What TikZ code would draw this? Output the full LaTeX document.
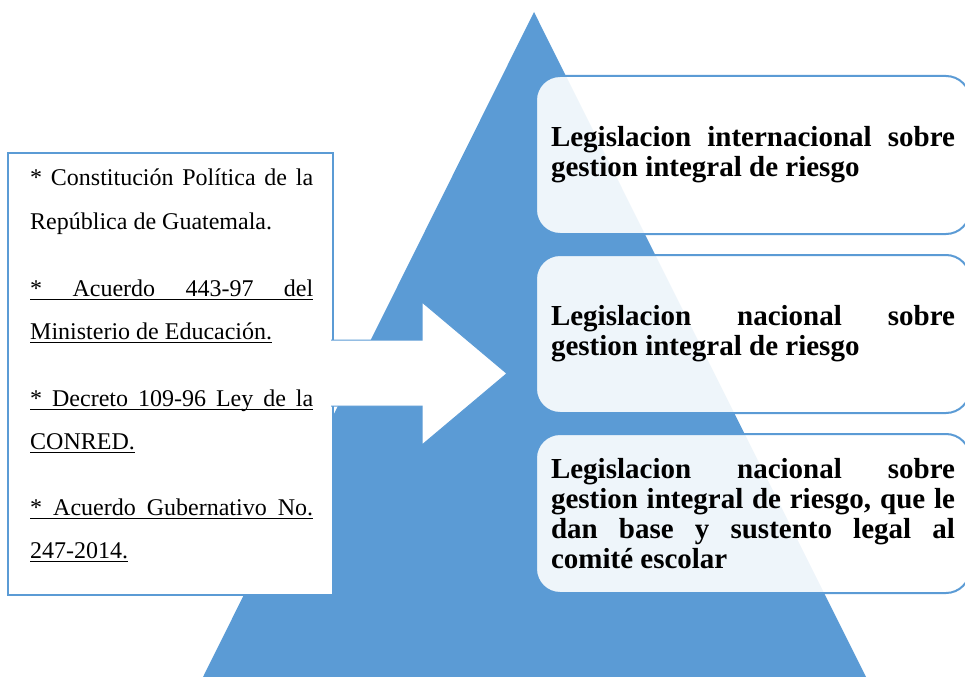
\documentclass[tikz,border=0pt]{standalone}
\usepackage{fontspec}
\setmainfont{Liberation Serif}
\usepackage{xcolor}
\usepackage{tikz}

\definecolor{triblue}{HTML}{5B9BD5}
\newlength\lw \setlength\lw{283bp}
\newlength\rw \setlength\rw{404bp}
% justified line and underlined line
\newcommand\jl[2]{\makebox[#1][s]{#2}}
\newcommand\undl[1]{\leavevmode\setbox0\hbox{#1}\rlap{\rule[-3.5bp]{\wd0}{0.9bp}}\box0}

\begin{document}
\begin{tikzpicture}[x=1bp, y=-1bp,
    lefttxt/.style={anchor=base west, inner sep=0, font=\fontsize{24bp}{43bp}\selectfont},
    rbox/.style={anchor=west, draw=triblue, line width=2bp, fill=white, fill opacity=0.9, text opacity=1,
        rounded corners=24bp, minimum height=158bp, inner xsep=15bp, inner ysep=0, outer sep=0,
        font=\bfseries\fontsize{29bp}{30bp}\selectfont}]
    \useasboundingbox (0,0) rectangle (965,677);
    % Pyramid
    \fill[triblue] (534,12) -- (866,677) -- (203,677) -- cycle;
    % Left box
    \node[draw=triblue, line width=2bp, fill=white, minimum width=325bp, minimum height=442bp, inner sep=0, outer sep=0] (lbox) at (170.5,374) {};
    \node[lefttxt] (p1) at (30,186) {\parbox[t]{\lw}{\jl{\lw}{* Constitución Política de la}\\República de Guatemala.}};
    \node[lefttxt] (p2) at (30,296) {\parbox[t]{\lw}{\undl{\jl{\lw}{* Acuerdo 443-97 del}}\\\undl{Ministerio de Educación.}}};
    \node[lefttxt] (p3) at (30,406) {\parbox[t]{\lw}{\undl{\jl{\lw}{* Decreto 109-96 Ley de la}}\\\undl{CONRED.}}};
    \node[lefttxt] (p4) at (30,515) {\parbox[t]{\lw}{\undl{\jl{\lw}{* Acuerdo Gubernativo No.}}\\\undl{247-2014.}}};
    % Arrow
    \fill[white] (331,340) -- (422,340) -- (422,302) -- (507,373.5) -- (422,445) -- (422,406) -- (331,406) -- cycle;
    \draw[triblue, line width=1bp] (331,340) -- (422,340) -- (422,302) -- (507,373.5) -- (422,445) -- (422,406) -- (331,406);
    % Levels
    \node[rbox] (r1) at (536,155) {\parbox{\rw}{\jl{\rw}{Legislacion internacional sobre}\\gestion integral de riesgo}};
    \node[rbox] (r2) at (536,334) {\parbox{\rw}{\jl{\rw}{Legislacion nacional sobre}\\gestion integral de riesgo}};
    \node[rbox, minimum height=159bp] (r3) at (536,513.5) {\parbox{\rw}{\jl{\rw}{Legislacion nacional sobre}\\\jl{\rw}{gestion integral de riesgo, que le}\\\jl{\rw}{dan base y sustento legal al}\\comité escolar}};
\end{tikzpicture}
\end{document}
